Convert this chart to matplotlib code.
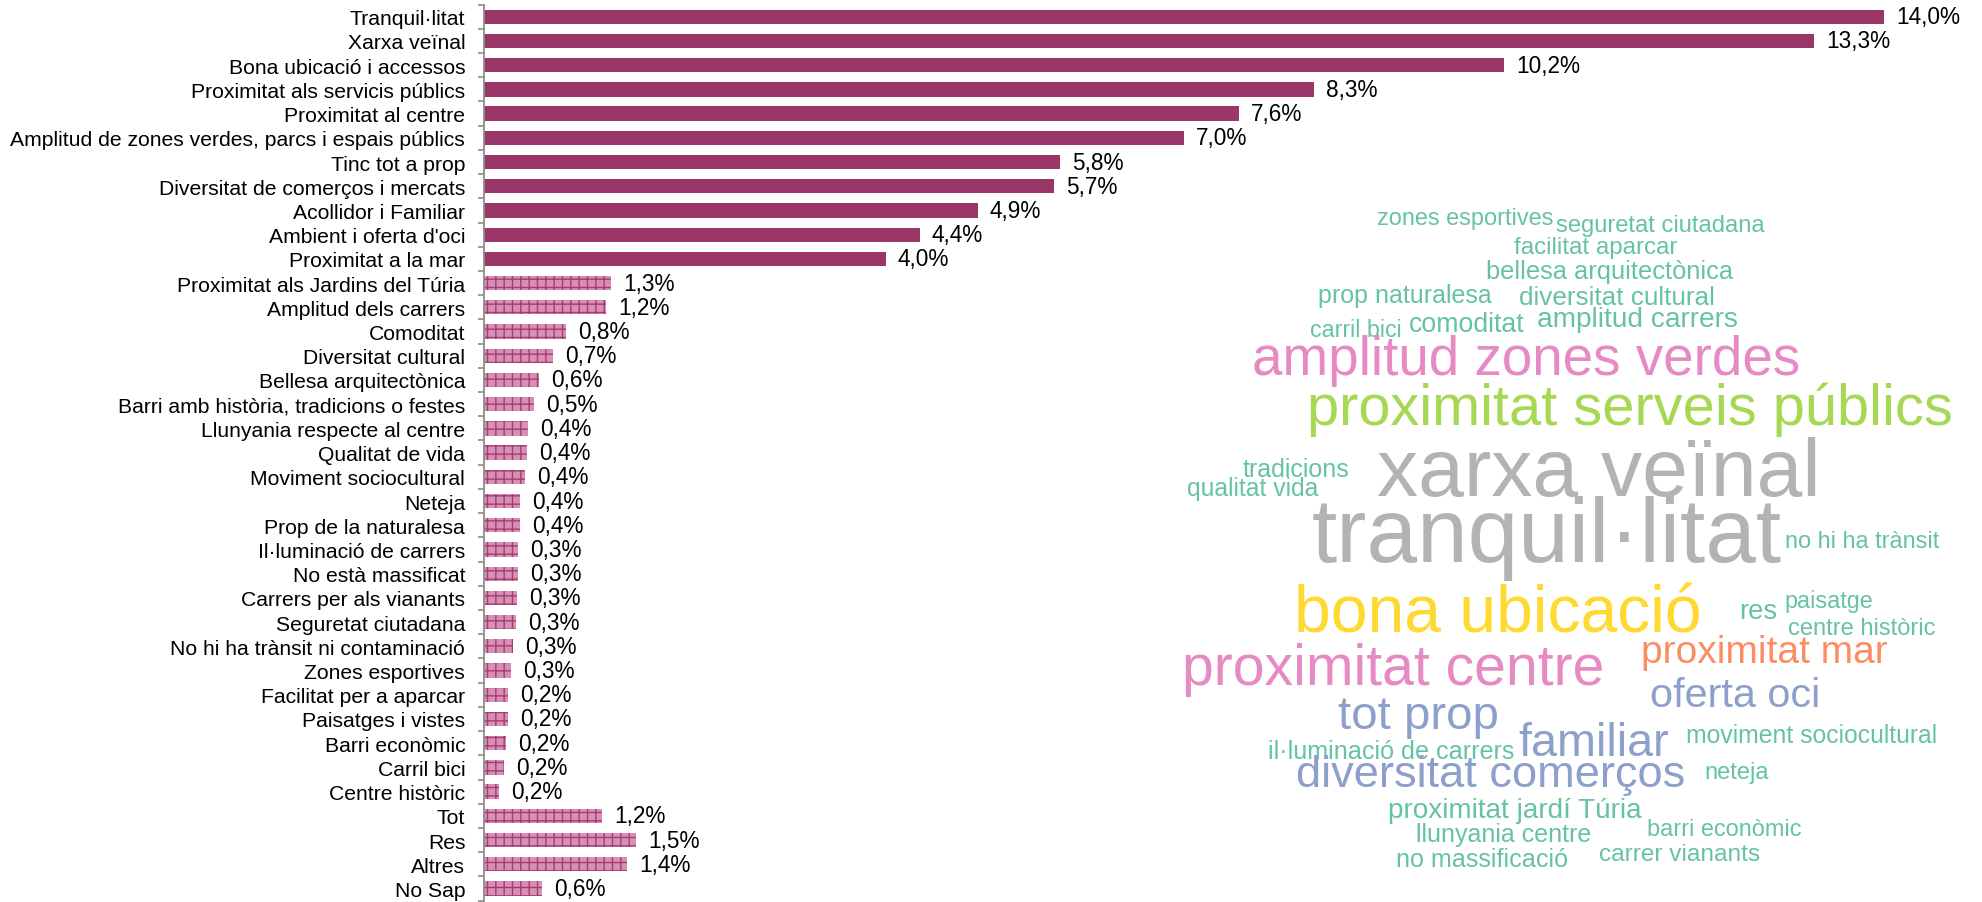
import matplotlib
matplotlib.use('Agg')
import matplotlib.pyplot as plt
import numpy as np

plt.rcParams['font.family'] = ['Liberation Sans', 'DejaVu Sans']
plt.rcParams['hatch.linewidth'] = 1.0

#%% Dades del gràfic de barres
categories = [
    'Tranquil·litat', 'Xarxa veïnal', 'Bona ubicació i accessos',
    'Proximitat als servicis públics', 'Proximitat al centre',
    'Amplitud de zones verdes, parcs i espais públics', 'Tinc tot a prop',
    'Diversitat de comerços i mercats', 'Acollidor i Familiar',
    "Ambient i oferta d'oci", 'Proximitat a la mar',
    'Proximitat als Jardins del Túria', 'Amplitud dels carrers', 'Comoditat',
    'Diversitat cultural', 'Bellesa arquitectònica',
    'Barri amb història, tradicions o festes', 'Llunyania respecte al centre',
    'Qualitat de vida', 'Moviment sociocultural', 'Neteja',
    'Prop de la naturalesa', 'Il·luminació de carrers', 'No està massificat',
    'Carrers per als vianants', 'Seguretat ciutadana',
    'No hi ha trànsit ni contaminació', 'Zones esportives',
    'Facilitat per a aparcar', 'Paisatges i vistes', 'Barri econòmic',
    'Carril bici', 'Centre històric', 'Tot', 'Res', 'Altres', 'No Sap',
]
valors = [
    14.0, 13.3, 10.2, 8.3, 7.55, 7.0, 5.76, 5.7, 4.94, 4.36, 4.02,
    1.27, 1.22, 0.82, 0.69, 0.55, 0.50, 0.44, 0.43, 0.41, 0.36, 0.36,
    0.34, 0.34, 0.33, 0.32, 0.29, 0.27, 0.24, 0.24, 0.22, 0.20, 0.15,
    1.18, 1.52, 1.43, 0.58,
]
etiquetes = [
    '14,0%', '13,3%', '10,2%', '8,3%', '7,6%', '7,0%', '5,8%', '5,7%',
    '4,9%', '4,4%', '4,0%', '1,3%', '1,2%', '0,8%', '0,7%', '0,6%', '0,5%',
    '0,4%', '0,4%', '0,4%', '0,4%', '0,4%', '0,3%', '0,3%', '0,3%', '0,3%',
    '0,3%', '0,3%', '0,2%', '0,2%', '0,2%', '0,2%', '0,2%', '1,2%', '1,5%',
    '1,4%', '0,6%',
]
n_principals = 11  # les primeres barres van en color ple

#%% Dades del núvol de paraules
paraules = [
    'zones esportives', 'seguretat ciutadana', 'facilitat aparcar',
    'bellesa arquitectònica', 'prop naturalesa', 'diversitat cultural',
    'carril bici', 'comoditat', 'amplitud carrers', 'amplitud zones verdes',
    'proximitat serveis públics', 'tradicions', 'qualitat vida',
    'xarxa veïnal', 'tranquil·litat', 'no hi ha trànsit', 'bona ubicació',
    'res', 'paisatge', 'centre històric', 'proximitat centre',
    'proximitat mar', 'oferta oci', 'tot prop', 'familiar',
    'moviment sociocultural', 'il·luminació de carrers',
    'diversitat comerços', 'neteja', 'proximitat jardí Túria',
    'llunyania centre', 'barri econòmic', 'no massificació', 'carrer vianants',
]
verd, rosa, llima, gris = '#66c2a5', '#e78ac3', '#a6d854', '#b3b3b3'
groc, taronja, blau = '#ffd92f', '#fc8d62', '#8da0cb'
colors_paraules = [
    verd, verd, verd, verd, verd, verd, verd, verd, verd, rosa,
    llima, verd, verd, gris, gris, verd, groc, verd, verd, verd, rosa,
    taronja, blau, blau, blau, verd, verd, blau, verd, verd, verd, verd,
    verd, verd,
]
# caixa de cada paraula en píxels: x inicial, x final, línia base
caixes = [
    (1377, 1553, 225), (1556, 1764, 232), (1514, 1677, 254),
    (1486, 1731, 279), (1318, 1491, 303), (1519, 1715, 305),
    (1310, 1402, 337), (1409, 1524, 332), (1537, 1737, 327),
    (1252, 1799, 375), (1307, 1952, 425), (1243, 1350, 477),
    (1187, 1319, 496), (1377, 1820, 496), (1312, 1780, 562),
    (1785, 1939, 548), (1294, 1701, 633), (1739, 1777, 619),
    (1784, 1872, 608), (1788, 1935, 635), (1182, 1603, 685),
    (1641, 1887, 663), (1650, 1820, 707), (1338, 1498, 729),
    (1518, 1669, 756), (1686, 1937, 743), (1268, 1513, 759),
    (1296, 1685, 787), (1704, 1768, 779), (1388, 1641, 818),
    (1416, 1591, 842), (1647, 1801, 836), (1396, 1568, 867),
    (1599, 1760, 861),
]

#%% Figura
W, H = 1982, 903
fig = plt.figure(figsize=(W / 100, H / 100), dpi=100)

eix_x0 = 484
ax = fig.add_axes([eix_x0 / W, (H - 901.6) / H, (W - eix_x0) / W, 896 / H])
ax.set_xlim(0, (W - eix_x0) / 100)
ax.set_ylim(len(categories) - 0.5, -0.5)

y = np.arange(len(categories))
v = np.array(valors)
ple = y < n_principals
ax.barh(y[ple], v[ple], height=0.59, color='#9b3768', linewidth=0)
ax.barh(y[~ple], v[~ple], height=0.59, color='#d690b5',
        edgecolor='#a83b70', linewidth=0, hatch='++')

for yi, vi, et in zip(y, v, etiquetes):
    ax.annotate(et, (vi, yi), xytext=(8.5, 0), textcoords='offset points',
                va='center', ha='left', fontsize=16.3, color='black',
                annotation_clip=False)

for s in ['top', 'right', 'bottom']:
    ax.spines[s].set_visible(False)
ax.spines['left'].set_color('#8c8c8c')
ax.spines['left'].set_linewidth(1.3)
ax.set_xticks([])
ax.set_yticks(np.arange(len(categories) + 1) - 0.5)
ax.set_yticklabels([])
ax.tick_params(axis='y', which='major', length=4.3, width=1.2, color='#8c8c8c')
ax.set_yticks(y, minor=True)
ax.set_yticklabels(categories, minor=True, fontsize=15.2)
ax.tick_params(axis='y', which='minor', length=0, pad=13.5)

#%% Núvol de paraules
ax2 = fig.add_axes([0, 0, 1, 1])
ax2.set_xlim(0, W)
ax2.set_ylim(H, 0)
ax2.axis('off')

textos = []
for p, c, (x0, x1, base) in zip(paraules, colors_paraules, caixes):
    textos.append(ax2.text(x0, base, p, color=c, fontsize=20,
                           ha='left', va='baseline'))
renderer = fig.canvas.get_renderer()
for t, (x0, x1, base) in zip(textos, caixes):
    amp = t.get_window_extent(renderer).width
    t.set_fontsize(20 * (x1 - x0) / amp)

fig.savefig('out.png', dpi=100)
